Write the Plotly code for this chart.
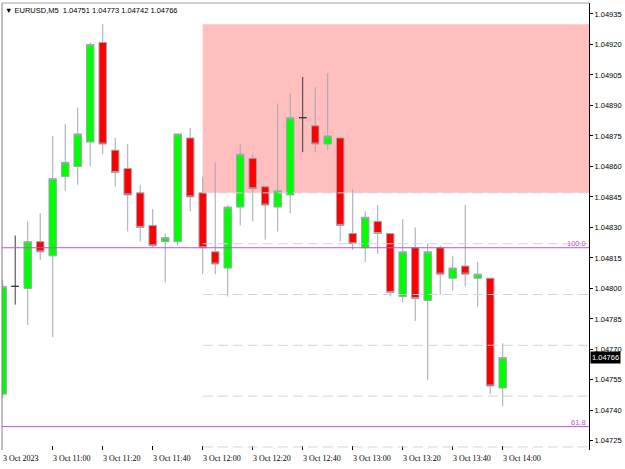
import plotly.graph_objects as go
import pandas as pd

# ---------------- data ----------------
symbol = "EURUSD,M5"
times = pd.date_range("2023-10-03 10:40", periods=41, freq="5min")

opens = [1.04748, 1.04801, 1.04800, 1.04823, 1.04816, 1.04855, 1.04860, 1.04872, 1.04921, 1.04868,
         1.04859, 1.04847, 1.04831, 1.04823, 1.04823, 1.04874, 1.04847, 1.04818, 1.04810, 1.04840,
         1.04864, 1.04850, 1.04840, 1.04846, 1.04884, 1.04880, 1.04871, 1.04874, 1.04827, 1.04820,
         1.04833, 1.04827, 1.04796, 1.04820, 1.04794, 1.04820, 1.04805, 1.04811, 1.04805, 1.04805,
         1.04751]
highs = [1.04804, 1.04826, 1.04833, 1.04837, 1.04875, 1.04881, 1.04889, 1.04921, 1.04930, 1.04874,
         1.04871, 1.04851, 1.04839, 1.04827, 1.04876, 1.04879, 1.04855, 1.04862, 1.04841, 1.04871,
         1.04866, 1.04850, 1.04891, 1.04896, 1.04904, 1.04899, 1.04906, 1.04874, 1.04849, 1.04838,
         1.04841, 1.04827, 1.04834, 1.04830, 1.04822, 1.04821, 1.04816, 1.04841, 1.04813, 1.04805,
         1.04773]
lows = [1.04746, 1.04792, 1.04782, 1.04814, 1.04776, 1.04848, 1.04851, 1.04860, 1.04866, 1.04850,
        1.04828, 1.04823, 1.04820, 1.04803, 1.04821, 1.04838, 1.04807, 1.04807, 1.04796, 1.04831,
        1.04833, 1.04824, 1.04828, 1.04837, 1.04867, 1.04867, 1.04868, 1.04823, 1.04819, 1.04813,
        1.04817, 1.04796, 1.04793, 1.04784, 1.04755, 1.04797, 1.04799, 1.04801, 1.04791, 1.04748,
        1.04742]
closes = [1.04801, 1.04801, 1.04823, 1.04818, 1.04854, 1.04862, 1.04876, 1.04920, 1.04871, 1.04857,
          1.04846, 1.04830, 1.04821, 1.04825, 1.04876, 1.04845, 1.04820, 1.04812, 1.04840, 1.04866,
          1.04849, 1.04841, 1.04848, 1.04884, 1.04884, 1.04871, 1.04875, 1.04831, 1.04822, 1.04835,
          1.04827, 1.04798, 1.04818, 1.04795, 1.04818, 1.04807, 1.04810, 1.04807, 1.04807, 1.04752,
          1.04766]

y_ticks = [1.04725, 1.04740, 1.04755, 1.04770, 1.04785, 1.04800, 1.04815, 1.04830,
           1.04845, 1.04860, 1.04875, 1.04890, 1.04905, 1.04920, 1.04935]
x_tick_times = ["2023-10-03 10:40", "2023-10-03 11:00", "2023-10-03 11:20", "2023-10-03 11:40",
                "2023-10-03 12:00", "2023-10-03 12:20", "2023-10-03 12:40", "2023-10-03 13:00",
                "2023-10-03 13:20", "2023-10-03 13:40", "2023-10-03 14:00"]
x_tick_labels = ["3 Oct 2023", "3 Oct 11:00", "3 Oct 11:20", "3 Oct 11:40", "3 Oct 12:00",
                 "3 Oct 12:20", "3 Oct 12:40", "3 Oct 13:00", "3 Oct 13:20", "3 Oct 13:40",
                 "3 Oct 14:00"]

zone_start = "2023-10-03 12:00"
zone_low, zone_high = 1.04847, 1.04930
fibo_levels = [1.04820, 1.04732]
fibo_labels = ["100.0", "61.8"]
dash_start = "2023-10-03 12:00"
dash_levels = [1.04847, 1.04822, 1.04797, 1.04772, 1.04747, 1.04722]

x_range = ["2023-10-03 10:39:43", "2023-10-03 14:34:31"]
y_range = [1.047205, 1.049404]

# ---------------- styles ----------------
GREEN = "#00FF00"
RED = "#FF0000"
WICK = "#9ea7b3"
DOJI = "#3a3a3a"
PURPLE = "#BA55D3"
PINK = "#FFBFBF"
SANS = "Liberation Sans, Arial, sans-serif"
SERIF = "Liberation Serif, Times New Roman, serif"

is_doji = [o == c for o, c in zip(opens, closes)]
norm = [i for i, d in enumerate(is_doji) if not d]
doji = [i for i, d in enumerate(is_doji) if d]

def pick(arr, idx):
    return [arr[i] for i in idx]

fig = go.Figure()
fig.add_trace(go.Candlestick(
    x=pick(times, norm), open=pick(opens, norm), high=pick(highs, norm),
    low=pick(lows, norm), close=pick(closes, norm),
    increasing=dict(fillcolor=GREEN, line=dict(color=WICK, width=1)),
    decreasing=dict(fillcolor=RED, line=dict(color=WICK, width=1)),
    whiskerwidth=0, hoverinfo="skip", showlegend=False))
fig.add_trace(go.Candlestick(
    x=pick(times, doji), open=pick(opens, doji), high=pick(highs, doji),
    low=pick(lows, doji), close=pick(closes, doji),
    increasing=dict(fillcolor=DOJI, line=dict(color=DOJI, width=1)),
    decreasing=dict(fillcolor=DOJI, line=dict(color=DOJI, width=1)),
    whiskerwidth=0, hoverinfo="skip", showlegend=False))

shapes = []
shapes.append(dict(type="rect", xref="x", yref="y", x0=zone_start, x1=x_range[1],
                   y0=zone_low, y1=zone_high, fillcolor=PINK, line=dict(width=0), layer="below"))
for lv in dash_levels:
    shapes.append(dict(type="line", xref="x", yref="y", x0=dash_start, x1=x_range[1], y0=lv, y1=lv,
                       line=dict(color="#d4d4d4", width=1, dash="10px,5px"), layer="above"))
for lv in fibo_levels:
    shapes.append(dict(type="line", xref="paper", yref="y", x0=0, x1=1, y0=lv, y1=lv,
                       line=dict(color=PURPLE, width=1), layer="above"))
# frame (top & left)
shapes.append(dict(type="line", xref="paper", yref="paper", x0=0, x1=1, y0=1, y1=1,
                   line=dict(color="#a0a0a0", width=1)))
shapes.append(dict(type="line", xref="paper", yref="paper", x0=0, x1=0, y0=0, y1=1,
                   line=dict(color="#808080", width=1)))

annotations = []
for t, lab in zip(x_tick_times, x_tick_labels):
    annotations.append(dict(x=t, xref="x", y=0, yref="paper", text=lab, showarrow=False,
                            xanchor="left", yanchor="top", xshift=-2, yshift=-2,
                            font=dict(family=SERIF, size=8, color="black")))
for lv, lab in zip(fibo_levels, fibo_labels):
    annotations.append(dict(x=1, xref="paper", y=lv, yref="y", text=lab, showarrow=False,
                            xanchor="right", yanchor="bottom", xshift=-1, yshift=-2,
                            font=dict(family=SANS, size=7.5, color=PURPLE)))
nb = "\u00a0"
header = (f"\u25bc{nb}{symbol}{nb}{nb}{opens[-1]:.5f}{nb}{highs[-1]:.5f}{nb}"
          f"{lows[-1]:.5f}{nb}{closes[-1]:.5f}")
annotations.append(dict(x=0, xref="paper", y=1, yref="paper", text=header, showarrow=False,
                        xanchor="left", yanchor="top", xshift=1, yshift=-1,
                        font=dict(family=SANS, size=7.5, color="black")))
annotations.append(dict(x=1, xref="paper", y=closes[-1], yref="y", text=f"{closes[-1]:.5f}",
                        showarrow=False, xanchor="left", yanchor="middle", xshift=1,
                        bgcolor="black", borderpad=1,
                        font=dict(family=SANS, size=7.5, color="white")))

fig.update_layout(
    width=625, height=469,
    margin=dict(l=2, r=36, t=3, b=19),
    paper_bgcolor="white", plot_bgcolor="white",
    showlegend=False, boxgap=0.4, boxgroupgap=0, boxmode="overlay",
    shapes=shapes, annotations=annotations,
    xaxis=dict(type="date", range=x_range, tickvals=x_tick_times, showticklabels=False,
               ticks="inside", ticklen=4, tickcolor="black", showgrid=False, zeroline=False,
               showline=False, rangeslider=dict(visible=False), fixedrange=True),
    yaxis=dict(side="right", range=y_range, tickvals=y_ticks,
               ticktext=[f"{v:.5f}" for v in y_ticks], ticks="outside", ticklen=3,
               tickcolor="black", showline=True, linecolor="black", linewidth=1,
               showgrid=False, zeroline=False, fixedrange=True,
               tickfont=dict(family=SANS, size=7.5, color="black")),
)

fig.write_html("out.html")
